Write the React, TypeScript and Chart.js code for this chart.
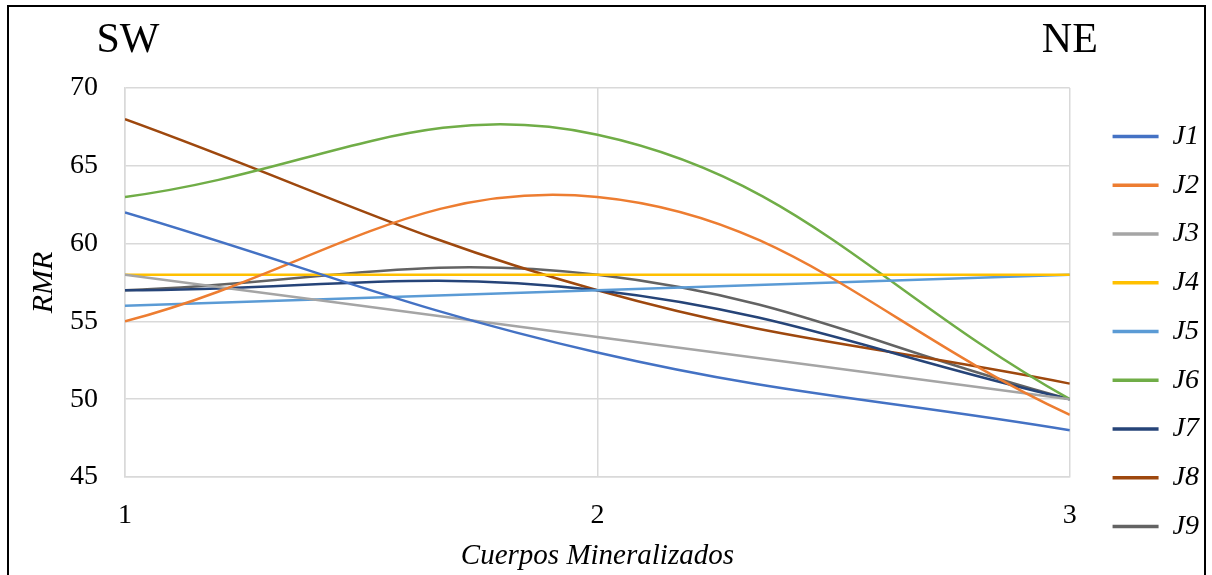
import React, { useEffect, useRef } from "react";
import { Chart, registerables } from "chart.js";

Chart.register(...registerables);

const xValues = [1, 2, 3];
const yTicks = [45, 50, 55, 60, 65, 70];
const seriesNames = ["J1", "J2", "J3", "J4", "J5", "J6", "J7", "J8", "J9"];
const J1 = [62, 53, 48];
const J2 = [55, 63, 49];
const J3 = [58, 54, 50];
const J4 = [58, 58, 58];
const J5 = [56, 57, 58];
const J6 = [63, 67, 50];
const J7 = [57, 57, 50];
const J8 = [68, 57, 51];
const J9 = [57, 58, 50];
const seriesValues = [J1, J2, J3, J4, J5, J6, J7, J8, J9];
const seriesColors = [
  "#4472C4",
  "#ED7D31",
  "#A5A5A5",
  "#FFC000",
  "#5B9BD5",
  "#70AD47",
  "#264478",
  "#9E480E",
  "#636363",
];
const sideLabels = ["SW", "NE"];
const xTitle = "Cuerpos Mineralizados";
const yTitle = "RMR";

const FONT = "'Liberation Serif', 'Times New Roman', serif";

const sidePlugin = {
  id: "sideLabels",
  afterDraw(chart: any) {
    const ctx = chart.ctx;
    const xs = chart.scales.x;
    ctx.save();
    ctx.font = `42px ${FONT}`;
    ctx.fillStyle = "#000";
    ctx.textAlign = "center";
    ctx.textBaseline = "middle";
    ctx.fillText(sideLabels[0], xs.getPixelForValue(xValues[0]) + 3, 41);
    ctx.fillText(sideLabels[1], xs.getPixelForValue(xValues[xValues.length - 1]), 41);
    ctx.restore();
  },
};

export default function App() {
  const ref = useRef<HTMLCanvasElement | null>(null);

  useEffect(() => {
    if (!ref.current) return;
    const chart = new Chart(ref.current, {
      type: "line",
      data: {
        datasets: seriesNames.map((name, i) => ({
          label: name,
          data: xValues.map((x, j) => ({ x, y: seriesValues[i][j] })),
          borderColor: seriesColors[i],
          backgroundColor: seriesColors[i],
          borderWidth: 2.5,
          pointRadius: 0,
          tension: 0.4,
          fill: false,
        })),
      },
      options: {
        animation: false,
        responsive: false,
        layout: { padding: { left: 29, top: 88, right: 3, bottom: 0 } },
        plugins: {
          tooltip: { enabled: false },
          legend: {
            position: "right",
            labels: {
              usePointStyle: true,
              pointStyle: "line",
              pointStyleWidth: 46,
              padding: 20.75,
              color: "#000",
              font: { family: FONT, size: 28, style: "italic" },
              generateLabels: (c: any) => {
                const items = (Chart as any).defaults.plugins.legend.labels.generateLabels(c);
                items.forEach((it: any) => {
                  it.lineWidth = 3.5;
                });
                return items;
              },
            },
          },
        },
        scales: {
          x: {
            type: "linear",
            min: 1,
            max: 3,
            afterBuildTicks: (s: any) => {
              s.ticks = xValues.map((v) => ({ value: v }));
            },
            afterFit: (s: any) => {
              s.height = 98;
            },
            grid: { color: "#D9D9D9", lineWidth: 1.5, drawTicks: false },
            border: { color: "#D9D9D9", width: 1.5 },
            ticks: {
              padding: 22,
              color: "#000",
              font: { family: FONT, size: 28 },
            },
            title: {
              display: true,
              text: xTitle,
              color: "#000",
              padding: { top: 0, bottom: 4 },
              font: { family: FONT, size: 29, style: "italic", lineHeight: 1 },
            },
          },
          y: {
            min: 45,
            max: 70,
            afterBuildTicks: (s: any) => {
              s.ticks = yTicks.map((v) => ({ value: v }));
            },
            afterFit: (s: any) => {
              s.width = 96;
            },
            grid: { color: "#D9D9D9", lineWidth: 1.5, drawTicks: false },
            border: { color: "#D9D9D9", width: 1.5 },
            ticks: {
              padding: 27,
              color: "#000",
              font: { family: FONT, size: 28 },
            },
            title: {
              display: true,
              text: yTitle,
              color: "#000",
              padding: 0,
              font: { family: FONT, size: 30, style: "italic", lineHeight: 1 },
            },
          },
          spacer: {
            type: "linear",
            position: "right",
            display: true,
            afterFit: (s: any) => {
              s.width = 22;
            },
            grid: { display: false },
            border: { display: false },
            ticks: { display: false },
          },
        },
      } as any,
      plugins: [sidePlugin],
    });
    return () => chart.destroy();
  }, []);

  return (
    <div
      style={{
        position: "fixed",
        left: 0,
        top: 0,
        width: 1212,
        height: 575,
        overflow: "hidden",
        background: "#fff",
      }}
    >
      <canvas
        ref={ref}
        width={1212}
        height={575}
        style={{ position: "absolute", left: 0, top: 0, width: 1212, height: 575 }}
      />
      <div
        style={{
          position: "absolute",
          left: 7,
          top: 5,
          width: 1199,
          height: 700,
          border: "2px solid #000",
          boxSizing: "border-box",
          pointerEvents: "none",
        }}
      />
    </div>
  );
}
